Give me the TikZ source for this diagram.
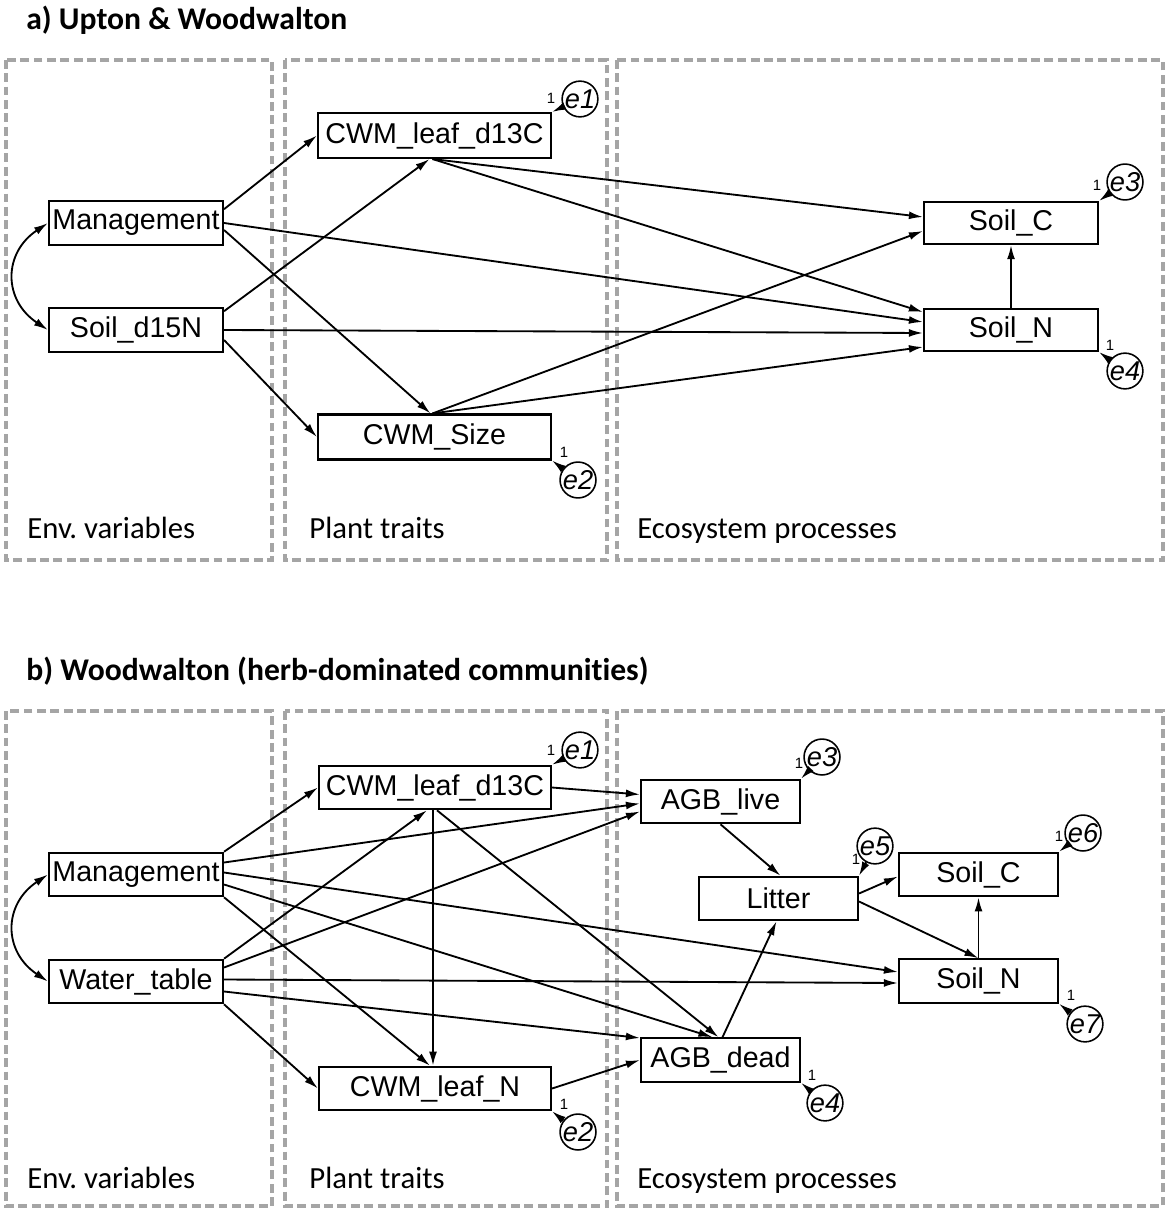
\documentclass[tikz,border=0pt]{standalone}
\usepackage{fontspec}
\setmainfont{Liberation Sans}
\newfontfamily\carlito[Ligatures=NoCommon]{Carlito}
\usetikzlibrary{arrows.meta,calc}
\definecolor{panelgray}{RGB}{165,165,165}
\tikzset{
  var/.style={draw, line width=1.2pt, inner sep=0pt, minimum height=0.87cm, font=\fontsize{16.3}{18}\selectfont},
  err/.style={draw, circle, line width=0.9pt, inner sep=0pt, minimum size=0.7cm, font=\fontsize{15.5}{17}\selectfont\itshape},
  one/.style={inner sep=0pt, font=\fontsize{8.5}{9}\selectfont},
  effect/.style={-{Latex[length=8pt,width=4.5pt]}, line width=1.05pt},
  panel/.style={draw=panelgray, line width=2pt, dash pattern=on 5pt off 2.6pt},
  title/.style={anchor=base west, inner sep=0pt, font=\carlito\bfseries\fontsize{18}{21}\selectfont},
  group/.style={anchor=base west, inner sep=0pt, font=\carlito\fontsize{17.5}{20}\selectfont}
}

\begin{document}
\begin{tikzpicture}[x=0.02cm, y=-0.02cm]
\useasboundingbox (0,0) rectangle (1167,1209);
% Titles
\node [title] (ta) at (26,30) {a) Upton \& Woodwalton};
\node [title] (tb) at (26,680) {b) Woodwalton (herb-dominated communities)};
% Panels of a)
\draw [panel] (6,60) rectangle (272,560);
\draw [panel] (285,60) rectangle (607,560);
\draw [panel] (617,60) rectangle (1163,560);
\node [group] (enva) at (27,538) {Env.\ variables};
\node [group] (planta) at (309,538) {Plant traits};
\node [group] (ecoa) at (637,538) {Ecosystem processes};
% Panels of b)
\draw [panel] (6,711) rectangle (272,1206);
\draw [panel] (285,711) rectangle (607,1206);
\draw [panel] (617,711) rectangle (1163,1206);
\node [group] (envb) at (27,1188) {Env.\ variables};
\node [group] (plantb) at (309,1188) {Plant traits};
\node [group] (ecob) at (637,1188) {Ecosystem processes};

% a) Variables
\node [var, minimum width=3.48cm] (mgmt) at (136,223) {Management};
\node [var, minimum width=3.48cm] (d15n) at (136,330) {Soil\_d15N};
\node [var, minimum width=4.66cm, minimum height=0.9cm] (d13c) at (434.5,135.5) {CWM\_leaf\_d13C};
\node [var, minimum width=4.66cm, minimum height=0.9cm] (size) at (434.5,437) {CWM\_Size};
\node [var, minimum width=3.48cm, minimum height=0.84cm] (soilc) at (1011,223) {Soil\_C};
\node [var, minimum width=3.48cm, minimum height=0.84cm] (soiln) at (1011,330) {Soil\_N};
% a) Errors
\node [err] (ea1) at (580,99) {e1};
\node [err] (ea2) at (578,480) {e2};
\node [err] (ea3) at (1125,182) {e3};
\node [err] (ea4) at (1125,371) {e4};
\node [one] (oa1) at (551,98) {1};
\node [one] (oa2) at (564,452) {1};
\node [one] (oa3) at (1097,185) {1};
\node [one] (oa4) at (1110,345) {1};
\draw [effect] (ea1) -- (d13c.north east);
\draw [effect] (ea2) -- (size.south east);
\draw [effect] (ea3) -- (soilc.north east);
\draw [effect] (ea4) -- (soiln.south east);
% a) Paths
\draw [effect] ($(mgmt.north east)+(0,9)$) -- (d13c.west);
\draw [effect] (mgmt.east) -- ($(soiln.west)+(0,-8)$);
\draw [effect] ($(mgmt.east)+(0,7)$) -- ($(size.north)+(-4,0)$);
\draw [effect] ($(d15n.north east)+(0,4)$) -- ($(d13c.south)+(-5,0)$);
\draw [effect] (d15n.east) -- ($(soiln.west)+(0,3)$);
\draw [effect] ($(d15n.east)+(0,10)$) -- (size.west);
\draw [effect] ($(d13c.south)+(-2,0)$) -- ($(soilc.west)+(0,-6)$);
\draw [effect] ($(d13c.south)+(-2,0)$) -- ($(soiln.west)+(0,-18)$);
\draw [effect] ($(size.north)+(-2,0)$) -- ($(soilc.west)+(0,8)$);
\draw [effect] ($(size.north)+(-2,0)$) -- ($(soiln.west)+(0,17)$);
\draw [effect] (soiln.north) -- (soilc.south);
% a) Covariance
\draw [effect, {Latex[length=8pt,width=4.5pt]}-{Latex[length=8pt,width=4.5pt]}] (mgmt.west) .. controls +(-45,30) and +(-45,-30) .. (d15n.west);

% b) Variables
\node [var, minimum width=3.48cm] (mgmt2) at (136,874.5) {Management};
\node [var, minimum width=3.48cm] (water) at (136,981.5) {Water\_table};
\node [var, minimum width=4.64cm] (d13c2) at (435,787.5) {CWM\_leaf\_d13C};
\node [var, minimum width=4.64cm] (leafn) at (435,1088.5) {CWM\_leaf\_N};
\node [var, minimum width=3.18cm] (live) at (720.5,801.5) {AGB\_live};
\node [var, minimum width=3.18cm] (litter) at (778.5,898.5) {Litter};
\node [var, minimum width=3.18cm] (dead) at (720.5,1060) {AGB\_dead};
\node [var, minimum width=3.18cm] (soilc2) at (978.5,874.5) {Soil\_C};
\node [var, minimum width=3.18cm] (soiln2) at (978.5,981) {Soil\_N};
% b) Errors
\node [err] (eb1) at (580,750) {e1};
\node [err] (eb2) at (578,1132) {e2};
\node [err] (eb3) at (822,757) {e3};
\node [err] (eb4) at (825,1103) {e4};
\node [err] (eb5) at (875,846) {e5};
\node [err] (eb6) at (1083,833) {e6};
\node [err] (eb7) at (1085,1024) {e7};
\node [one] (ob1) at (551,750) {1};
\node [one] (ob2) at (564,1104) {1};
\node [one] (ob3) at (799,763) {1};
\node [one] (ob4) at (812,1075) {1};
\node [one] (ob5) at (856,859) {1};
\node [one] (ob6) at (1059,836) {1};
\node [one] (ob7) at (1071,995) {1};
\draw [effect] (eb1) -- (d13c2.north east);
\draw [effect] (eb2) -- (leafn.south east);
\draw [effect] (eb3) -- (live.north east);
\draw [effect] (eb4) -- (dead.south east);
\draw [effect] (eb5) -- (litter.north east);
\draw [effect] (eb6) -- (soilc2.north east);
\draw [effect] (eb7) -- (soiln2.south east);
% b) Paths from Management
\draw [effect] (mgmt2.north east) -- (d13c2.west);
\draw [effect] ($(mgmt2.east)+(0,-12)$) -- ($(live.west)+(0,2)$);
\draw [effect] ($(mgmt2.east)+(0,-2)$) -- ($(soiln2.west)+(0,-9)$);
\draw [effect] ($(mgmt2.east)+(0,10)$) -- ($(dead.north)+(-8,0)$);
\draw [effect] (mgmt2.south east) -- ($(leafn.north)+(-5,0)$);
% b) Paths from Water_table
\draw [effect] (water.north east) -- ($(d13c2.south)+(-8,0)$);
\draw [effect] ($(water.east)+(0,-14)$) -- ($(live.west)+(0,10)$);
\draw [effect] ($(water.east)+(0,-2)$) -- ($(soiln2.west)+(0,2)$);
\draw [effect] ($(water.east)+(0,10)$) -- ($(dead.west)+(0,-22)$);
\draw [effect] (water.south east) -- (leafn.west);
% b) Paths from traits
\draw [effect] (d13c2.east) -- ($(live.west)+(0,-7)$);
\draw [effect] ($(d13c2.south)+(-2,0)$) -- ($(leafn.north)+(-2,0)$);
\draw [effect] ($(d13c2.south)+(2,0)$) -- ($(dead.north)+(-2,0)$);
\draw [effect] (leafn.east) -- (dead.west);
% b) Paths among processes
\draw [effect] ($(dead.north)+(2,0)$) -- ($(litter.south)+(-2,0)$);
\draw [effect] (live.south) -- ($(litter.north)+(2,0)$);
\draw [effect] ($(litter.east)+(0,-5)$) -- ($(soilc2.west)+(0,2)$);
\draw [effect] ($(litter.east)+(0,3)$) -- (soiln2.north);
\draw [effect] (soiln2.north) -- (soilc2.south);
% b) Covariance
\draw [effect, {Latex[length=8pt,width=4.5pt]}-{Latex[length=8pt,width=4.5pt]}] (mgmt2.west) .. controls +(-45,30) and +(-45,-30) .. (water.west);
\end{tikzpicture}
\end{document}
